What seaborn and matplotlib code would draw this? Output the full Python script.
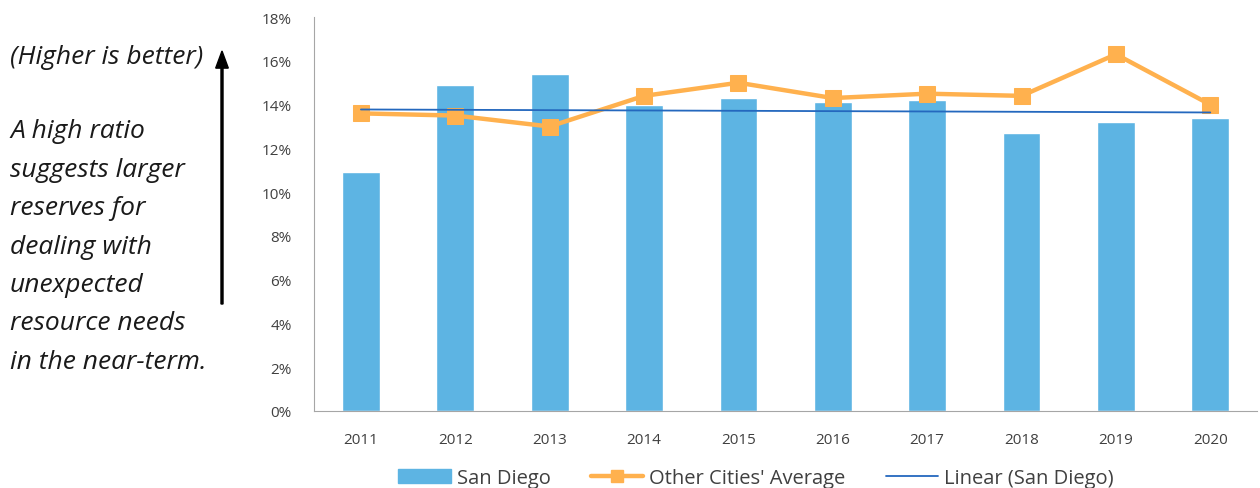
import numpy as np
import pandas as pd
import matplotlib
matplotlib.use("Agg")
import matplotlib.pyplot as plt
import seaborn as sns
from matplotlib.lines import Line2D
from matplotlib.patches import Patch
from matplotlib.ticker import FuncFormatter

years = ["2011", "2012", "2013", "2014", "2015", "2016", "2017", "2018", "2019", "2020"]
san_diego = [10.9, 14.9, 15.4, 14.0, 14.3, 14.1, 14.2, 12.7, 13.2, 13.4]
other_avg = [13.6, 13.5, 13.0, 14.4, 15.0, 14.3, 14.5, 14.4, 16.3, 14.0]

bar_col = "#5DB4E3"
line_col = "#FFB14E"
trend_col = "#2468BE"

sns.set_style("white")
plt.rcParams["font.family"] = ["Open Sans", "DejaVu Sans"]

df = pd.DataFrame({"year": years, "sd": san_diego, "other": other_avg})
df["pos"] = np.arange(len(years))

fig = plt.figure(figsize=(12.6, 4.89), dpi=100)
ax = fig.add_axes([0.249, 0.1575, 0.749, 0.8055])

sns.barplot(data=df, x="year", y="sd", color=bar_col, width=0.4, saturation=1, ax=ax)
sns.lineplot(data=df, x="pos", y="other", color=line_col, lw=3.2, marker="s",
             markersize=11, markeredgecolor=line_col, ax=ax)

# linear trend of San Diego
slope, icpt = np.polyfit(df["pos"], df["sd"], 1)
ax.plot(df["pos"], slope * df["pos"] + icpt, color=trend_col, lw=1.3, zorder=5)

ax.set_ylim(0, 18)
ax.set_xlim(-0.5, 9.5)
ax.set_yticks(np.arange(0, 19, 2))
ax.yaxis.set_major_formatter(FuncFormatter(lambda v, p: f"{v:.0f}%"))
ax.set_xlabel("")
ax.set_ylabel("")
ax.tick_params(axis="y", length=0, pad=16, labelsize=11, labelcolor="#404040")
ax.tick_params(axis="x", length=0, pad=15, labelsize=11, labelcolor="#404040")
for s in ["top", "right"]:
    ax.spines[s].set_visible(False)
ax.spines["left"].set_color("#A6A6A6")
ax.spines["bottom"].set_color("#A6A6A6")
ax.grid(False)

handles = [
    Patch(color=bar_col, label="San Diego"),
    Line2D([0], [0], color=line_col, lw=3.2, marker="s", markersize=9, label="Other Cities' Average"),
    Line2D([0], [0], color=trend_col, lw=1.3, label="Linear (San Diego)"),
]
fig.legend(handles=handles, loc="lower center", bbox_to_anchor=(0.6, -0.038), ncol=3,
           frameon=False, fontsize=14.5, handlelength=2.6, columnspacing=2.0,
           handletextpad=0.3, labelcolor="#404040")

# side annotation
fig.text(10 / 1260, 1 - 57 / 489, "(Higher is better)", fontsize=19, style="italic",
         va="center", ha="left", color="#1a1a1a")
side_lines = ["A high ratio", "suggests larger", "reserves for", "dealing with",
              "unexpected", "resource needs", "in the near-term."]
for i, t in enumerate(side_lines):
    fig.text(10 / 1260, 1 - (132 + i * 38.4) / 489, t, fontsize=19, style="italic",
             va="center", ha="left", color="#1a1a1a")

fig.patches.append(matplotlib.patches.FancyArrow(
    222 / 1260, 1 - 305 / 489, 0, (305 - 52) / 489, width=0.0016,
    head_width=0.010, head_length=0.035, length_includes_head=True,
    color="black", transform=fig.transFigure, figure=fig))

fig.savefig("out.png", dpi=100)
